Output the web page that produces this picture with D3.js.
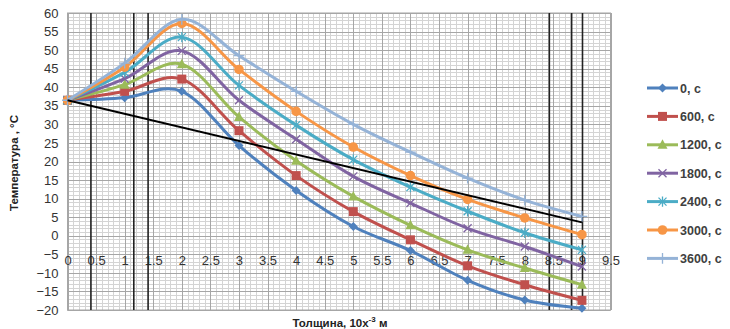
<!DOCTYPE html>
<html><head><meta charset="utf-8">
<script src="https://cdn.jsdelivr.net/npm/d3@7"></script>
<style>body{margin:0;background:#fff}svg{display:block}</style>
</head><body>
<svg id="c" width="730" height="329"></svg>
<script>
const xs = [0,1,2,3,4,5,6,7,8,9];
const seriesNames = ["0, c","600, c","1200, c","1800, c","2400, c","3000, c","3600, c"];
const s0    = [36.5,37.2,38.9,24.3,12.2,2.5,-4.0,-12.0,-17.3,-19.5];
const s600  = [36.5,38.9,42.2,28.3,16.2,6.5,-1.1,-8.1,-13.2,-17.4];
const s1200 = [36.5,40.7,46.2,32.0,20.2,10.6,2.8,-3.8,-8.7,-13.2];
const s1800 = [36.5,42.3,49.8,36.5,26.0,16.0,8.8,2.0,-2.9,-8.3];
const s2400 = [36.5,44.0,53.5,40.5,29.8,20.5,13.1,6.6,0.8,-3.8];
const s3000 = [36.5,45.4,57.2,44.8,33.5,23.9,16.2,9.8,4.8,0.3];
const s3600 = [36.5,46.5,58.3,48.5,38.9,30.0,22.5,15.5,9.6,5.2];
const seriesValues = [s0,s600,s1200,s1800,s2400,s3000,s3600];
const colors = ["#4F81BD","#C0504D","#9BBB59","#8064A2","#4BACC6","#F79646","#95B3D7"];
const markers = ["diamond","square","triangle","x","star","circle","plus"];
const xTicks = [0,0.5,1,1.5,2,2.5,3,3.5,4,4.5,5,5.5,6,6.5,7,7.5,8,8.5,9,9.5];
const yTicks = [60,55,50,45,40,35,30,25,20,15,10,5,0,-5,-10,-15,-20];
const trendLine = [[0,36.5],[9,3.6]];
const verticalMarks = [0.41,1.16,1.41,8.43,8.82,9.01];

const svg = d3.select("#c");
const L=67.5, R=610.5, T=13, B=310;
const x = d3.scaleLinear().domain([0,9.5]).range([L,R]);
const y = d3.scaleLinear().domain([-20,60]).range([B,T]);

const g = svg.append("g");
// minor grid
const minorX = d3.range(0,9.5001,0.1).map(v=>+v.toFixed(2));
const minorY = d3.range(-20,60.001,1);
g.append("g").selectAll("line").data(minorX).join("line")
 .attr("x1",d=>Math.round(x(d))+0.5).attr("x2",d=>Math.round(x(d))+0.5)
 .attr("y1",T).attr("y2",B).attr("stroke","#d4d4d4").attr("stroke-width",1);
g.append("g").selectAll("line").data(minorY).join("line")
 .attr("y1",d=>Math.round(y(d))+0.5).attr("y2",d=>Math.round(y(d))+0.5)
 .attr("x1",L).attr("x2",R).attr("stroke","#d4d4d4").attr("stroke-width",1);
// major grid
g.append("g").selectAll("line").data(xTicks).join("line")
 .attr("x1",d=>Math.round(x(d))+0.5).attr("x2",d=>Math.round(x(d))+0.5)
 .attr("y1",T).attr("y2",B).attr("stroke","#a6a6a6").attr("stroke-width",1);
g.append("g").selectAll("line").data(yTicks).join("line")
 .attr("y1",d=>Math.round(y(d))+0.5).attr("y2",d=>Math.round(y(d))+0.5)
 .attr("x1",L).attr("x2",R).attr("stroke","#a6a6a6").attr("stroke-width",1);
g.append("rect").attr("x",L).attr("y",T).attr("width",R-L).attr("height",B-T)
 .attr("fill","none").attr("stroke","#a6a6a6");

// y axis labels
const yAxis = d3.axisLeft(y).tickValues(yTicks).tickSize(0).tickPadding(0);
const ya = svg.append("g").attr("transform",`translate(${L-9},0)`).call(yAxis);
ya.select(".domain").remove();
ya.selectAll("text").attr("font-family","Liberation Sans, Arial, sans-serif").attr("font-size",13).attr("fill","#333");

// x axis labels at y=-5
const xAxis = d3.axisBottom(x).tickValues(xTicks).tickSize(0).tickPadding(0).tickFormat(d=>String(d));
const xa = svg.append("g").attr("transform",`translate(0,${y(-5)+1})`).call(xAxis);
xa.select(".domain").remove();
xa.selectAll("text").attr("font-family","Liberation Sans, Arial, sans-serif").attr("font-size",13).attr("fill","#333");

// vertical black marks
svg.append("g").selectAll("line").data(verticalMarks).join("line")
 .attr("x1",d=>x(d)).attr("x2",d=>x(d)).attr("y1",T).attr("y2",B)
 .attr("stroke","#222").attr("stroke-width",1.6);

// series
const line = d3.line().x(d=>x(d[0])).y(d=>y(d[1])).curve(d3.curveCatmullRom.alpha(0));
function drawMarker(sel, type, color, s){
  if(type==="diamond"){ sel.append("path").attr("d",`M0,${-s}L${s},0L0,${s}L${-s},0Z`).attr("fill",color); }
  else if(type==="square"){ sel.append("rect").attr("x",-s).attr("y",-s).attr("width",2*s).attr("height",2*s).attr("fill",color); }
  else if(type==="triangle"){ sel.append("path").attr("d",`M0,${-s*1.1}L${s},${s*0.8}L${-s},${s*0.8}Z`).attr("fill",color); }
  else if(type==="circle"){ sel.append("circle").attr("r",s).attr("fill",color); }
  else if(type==="x"){ sel.append("path").attr("d",`M${-s},${-s}L${s},${s}M${-s},${s}L${s},${-s}`).attr("stroke",color).attr("stroke-width",1.3); }
  else if(type==="star"){ sel.append("path").attr("d",`M${-s},${-s}L${s},${s}M${-s},${s}L${s},${-s}M0,${-s*1.3}L0,${s*1.3}`).attr("stroke",color).attr("stroke-width",1.3); }
  else if(type==="plus"){ sel.append("path").attr("d",`M${-s*1.2},0L${s*1.2},0M0,${-s*1.2}L0,${s*1.2}`).attr("stroke",color).attr("stroke-width",1.3); }
}
const sizes = {diamond:4.5,square:4.5,triangle:5,circle:4.8,x:4,star:4,plus:4.5};
seriesValues.forEach((vals,i)=>{
  const pts = xs.map((xv,j)=>[xv,vals[j]]);
  svg.append("path").datum(pts).attr("d",line).attr("fill","none")
    .attr("stroke",colors[i]).attr("stroke-width",3).attr("stroke-linejoin","round");
  pts.forEach(p=>{
    const m = svg.append("g").attr("transform",`translate(${x(p[0])},${y(p[1])})`);
    drawMarker(m, markers[i], colors[i], sizes[markers[i]]);
  });
});

// trend line
svg.append("line").attr("x1",x(trendLine[0][0])).attr("y1",y(trendLine[0][1]))
 .attr("x2",x(trendLine[1][0])).attr("y2",y(trendLine[1][1]))
 .attr("stroke","#000").attr("stroke-width",2);

// legend
const lg = svg.append("g");
seriesNames.forEach((n,i)=>{
  const yy = 88 + i*28.4;
  const e = lg.append("g").attr("transform",`translate(647,${yy})`);
  e.append("line").attr("x1",0).attr("x2",31).attr("stroke",colors[i]).attr("stroke-width",3);
  const m = e.append("g").attr("transform","translate(15.5,0)");
  drawMarker(m, markers[i], colors[i], sizes[markers[i]]);
  e.append("text").attr("x",33).attr("y",4.5).text(n)
   .attr("font-family","Liberation Sans, Arial, sans-serif").attr("font-size",12.5).attr("font-weight","bold").attr("fill","#404040");
});

// axis titles
svg.append("text").attr("transform","translate(18,163) rotate(-90)").attr("text-anchor","middle")
 .attr("font-family","Liberation Sans, Arial, sans-serif").attr("font-size",11.5).attr("font-weight","bold").attr("fill","#222")
 .text("Температура , °C");
const xt = svg.append("text").attr("x",340).attr("y",327).attr("text-anchor","middle")
 .attr("font-family","Liberation Sans, Arial, sans-serif").attr("font-size",11.5).attr("font-weight","bold").attr("fill","#222");
xt.append("tspan").text("Толщина, 10х");
xt.append("tspan").attr("dy",-5).attr("font-size",8).text("-3");
xt.append("tspan").attr("dy",5).text(" м");
</script>
</body></html>
